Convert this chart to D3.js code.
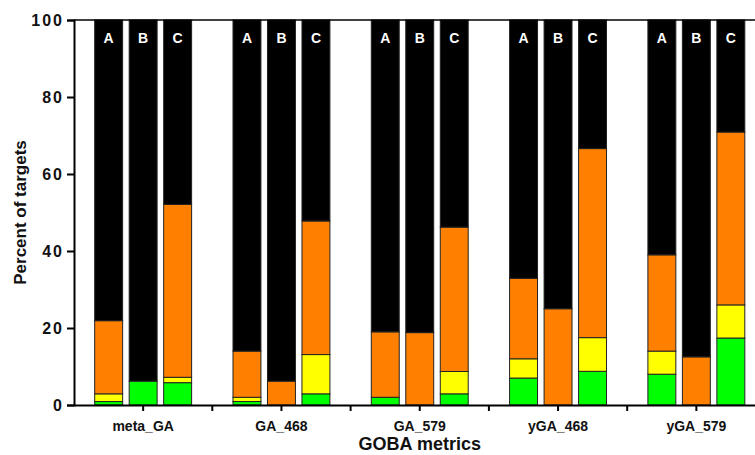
<!DOCTYPE html>
<html>
<head>
<meta charset="utf-8">
<script src="https://cdn.jsdelivr.net/npm/d3@7"></script>
<style>
  html, body { margin: 0; padding: 0; background: #fff; }
  svg { display: block; font-family: "Liberation Sans", Arial, Helvetica, sans-serif; }
</style>
</head>
<body>
<svg id="chart" width="755" height="455"></svg>
<script>
// ---- data ----
const groups = ["meta_GA", "GA_468", "GA_579", "yGA_468", "yGA_579"];
const letters = ["A", "B", "C"];
// segment heights (percent), order: group-major, letter-minor
const greenVals  = [0.9, 6.2, 5.8,   0.9, 0, 2.9,    2.0, 0, 2.9,    7.0, 0, 8.75,   8.0, 0, 17.4];
const yellowVals = [2.0, 0, 1.4,     1.1, 0, 10.2,   0, 0, 5.8,      5.0, 0, 8.75,   6.0, 0, 8.6];
const orangeVals = [19.0, 0, 44.9,   12.0, 6.2, 34.7, 17.0, 18.8, 37.5, 20.9, 25.0, 49.1, 25.0, 12.5, 44.9];
const yTicks = [0, 20, 40, 60, 80, 100];
const keys = ["green", "yellow", "orange", "black"];
const colors = { green: "#00ff00", yellow: "#ffff00", orange: "#ff8000", black: "#000000" };

const rows = [];
groups.forEach((g, gi) => letters.forEach((l, li) => {
  const i = gi * 3 + li;
  const gr = greenVals[i], ye = yellowVals[i], or = orangeVals[i];
  rows.push({ group: g, letter: l, green: gr, yellow: ye, orange: or, black: 100 - gr - ye - or });
}));

// ---- layout ----
const svg = d3.select("#chart");
const mLeft = 74, mTop = 20, mBottom = 405, mRight = 765.5;

const x0 = d3.scaleBand().domain(groups).range([mLeft, mRight]).padding(0);
const x1 = d3.scaleBand().domain(letters).range([0, x0.bandwidth()])
  .paddingInner(0.19).paddingOuter(0.6);
const y = d3.scaleLinear().domain([0, 100]).range([mBottom, mTop]);

const stack = d3.stack().keys(keys);
const series = stack(rows);

// bars
series.forEach(s => {
  svg.append("g").selectAll("rect")
    .data(s.filter(d => d[1] - d[0] > 0))
    .join("rect")
    .attr("x", d => x0(d.data.group) + x1(d.data.letter))
    .attr("width", x1.bandwidth())
    .attr("y", d => y(d[1]))
    .attr("height", d => y(d[0]) - y(d[1]))
    .attr("fill", colors[s.key])
    .attr("stroke", "#222")
    .attr("stroke-width", 1);
});

// letters at top of bars
svg.append("g").selectAll("text")
  .data(rows)
  .join("text")
  .attr("x", d => x0(d.group) + x1(d.letter) + x1.bandwidth() / 2)
  .attr("y", 43)
  .attr("text-anchor", "middle")
  .attr("fill", "#fff")
  .attr("font-size", 14)
  .attr("font-weight", "bold")
  .text(d => d.letter);

// top frame line
svg.append("line")
  .attr("x1", mLeft).attr("x2", 755)
  .attr("y1", y(100)).attr("y2", y(100))
  .attr("stroke", "#000").attr("stroke-width", 1.5);

// y axis
const yAxis = svg.append("g")
  .attr("transform", `translate(${mLeft},0)`)
  .call(d3.axisLeft(y).tickValues(yTicks).tickSize(7).tickPadding(3));
yAxis.select(".domain").attr("stroke-width", 2);
yAxis.selectAll(".tick line").attr("stroke-width", 2);
yAxis.selectAll(".tick text")
  .attr("font-size", 16).attr("font-weight", "bold").attr("fill", "#111")
  .attr("font-family", "Liberation Sans, Arial, sans-serif")
  .style("letter-spacing", "2px");

// x axis
const xAxis = svg.append("g")
  .attr("transform", `translate(0,${mBottom})`)
  .call(d3.axisBottom(x0).tickSize(0).tickPadding(16).tickSizeOuter(0));
xAxis.select(".domain").attr("stroke-width", 2);
xAxis.selectAll(".tick text")
  .attr("font-size", 14).attr("font-weight", "bold").attr("fill", "#111")
  .attr("font-family", "Liberation Sans, Arial, sans-serif");
// tick marks at centers and boundaries
const tickXs = [];
groups.forEach(g => { tickXs.push(x0(g)); tickXs.push(x0(g) + x0.bandwidth() / 2); });
svg.append("g").selectAll("line")
  .data(tickXs.filter(v => v > mLeft + 1))
  .join("line")
  .attr("x1", d => d).attr("x2", d => d)
  .attr("y1", mBottom).attr("y2", mBottom + 6)
  .attr("stroke", "#000").attr("stroke-width", 2);

// axis titles
svg.append("text")
  .attr("x", (mLeft + mRight) / 2).attr("y", 450)
  .attr("text-anchor", "middle")
  .attr("font-size", 18).attr("font-weight", "bold").attr("fill", "#111")
  .text("GOBA metrics");

svg.append("text")
  .attr("transform", `translate(26,${(mTop + mBottom) / 2}) rotate(-90)`)
  .attr("text-anchor", "middle")
  .attr("font-size", 17).attr("font-weight", "bold").attr("fill", "#111")
  .text("Percent of targets");
</script>
</body>
</html>
